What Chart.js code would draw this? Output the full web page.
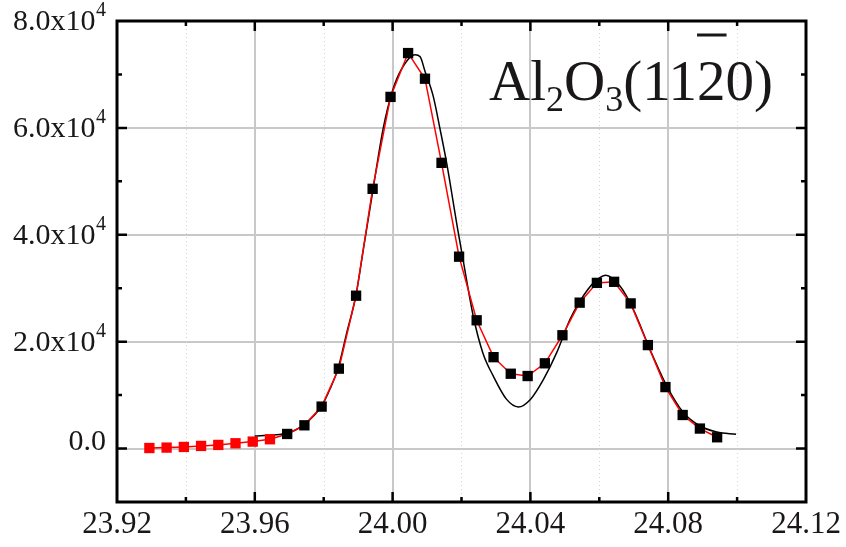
<!DOCTYPE html>
<html>
<head>
<meta charset="utf-8">
<script src="https://cdn.jsdelivr.net/npm/chart.js@4.4.1/dist/chart.umd.min.js"></script>
<style>
  html, body { margin: 0; background: #fff; }
  #wrap { position: relative; width: 846px; height: 547px; }
</style>
</head>
<body>
<div id="wrap"><canvas id="xrd"></canvas></div>
<script>
'use strict';

/* ── Data ────────────────────────────────────────────── */

// low-angle tail (red squares)
var tailX = [23.9294, 23.9344, 23.9394, 23.9444, 23.9494, 23.9544, 23.9594, 23.9644];
var tailY = [100, 180, 300, 490, 680, 990, 1300, 1740];

// measured points (black squares)
var dataX = [23.9694, 23.9744, 23.9794, 23.9844, 23.9894, 23.9942, 23.9994, 24.0045,
             24.0094, 24.0142, 24.0193, 24.0244, 24.0293, 24.0343, 24.0392, 24.0442,
             24.0493, 24.0543, 24.0593, 24.0643, 24.0691, 24.0741, 24.0792, 24.0842,
             24.0892, 24.0942];
var dataY = [2730, 4350, 7850, 14950, 28600, 48600, 65800, 74000,
             69200, 53460, 35900, 24000, 17100, 14000, 13570, 15950,
             21200, 27300, 31000, 31200, 27160, 19360, 11500, 6280,
             3740, 2110];

// fitted curve (black line)
var fitX = [23.9600, 23.9650, 23.9693, 23.9741, 23.9794, 23.9818, 23.9842, 23.9867,
            23.9893, 23.9915, 23.9942, 23.9973, 24.0000, 24.0025, 24.0065, 24.0080,
            24.0094, 24.0118, 24.0138, 24.0157, 24.0189, 24.0203, 24.0234, 24.0262,
            24.0292, 24.0331, 24.0365, 24.0400, 24.0438, 24.0476, 24.0515, 24.0544,
            24.0583, 24.0619, 24.0660, 24.0699, 24.0747, 24.0796, 24.0844, 24.0892,
            24.0941, 24.0997];
var fitY = [2360, 2550, 2850, 4400, 7960, 11100, 15100, 21700,
            28500, 37200, 48000, 60000, 67000, 70900, 73700, 73300,
            70600, 65900, 59700, 53400, 41000, 35900, 24800, 17900,
            13600, 9200, 7780, 9200, 12950, 17900, 24200, 27600,
            31000, 32450, 30400, 26000, 18560, 11700, 6730, 4220,
            3100, 2670];

var xTicks     = [23.92, 23.96, 24.00, 24.04, 24.08, 24.12];
var xMinor     = [23.94, 23.98, 24.02, 24.06, 24.10];
var yTicks     = [0, 20000, 40000, 60000, 80000];
var yMinor     = [10000, 30000, 50000, 70000];
var yTickText  = ['0.0', '2.0x10', '4.0x10', '6.0x10', '8.0x10'];
var yTickExp   = ['', '4', '4', '4', '4'];

// title: Al2O3(11-20), bar over the 2
var titleParts = [['Al', 'n'], ['2', 'sub'], ['O', 'n'], ['3', 'sub'], ['(11', 'n'], ['2', 'bar'], ['0)', 'n']];

/* ── Helpers ─────────────────────────────────────────── */

function pts(xs, ys) {
  return xs.map(function (x, i) { return { x: x, y: ys[i] }; });
}

var SERIF = '"Liberation Serif", "Times New Roman", serif';
var INK = '#1a1718';

/* Frame, inward ticks, tick labels with exponent, title */
var framePlugin = {
  id: 'frame',
  beforeDatasetsDraw: function (chart) {
    var ctx = chart.ctx, a = chart.chartArea, xs = chart.scales.x;
    ctx.save();
    ctx.strokeStyle = '#d2d2d2';
    ctx.lineWidth = 1;
    ctx.setLineDash([1, 3]);
    xMinor.forEach(function (v) {
      var px = Math.round(xs.getPixelForValue(v)) + 0.5;
      ctx.beginPath(); ctx.moveTo(px, a.top); ctx.lineTo(px, a.bottom); ctx.stroke();
    });
    ctx.restore();
  },
  afterDraw: function (chart) {
    var ctx = chart.ctx, a = chart.chartArea;
    var xs = chart.scales.x, ys = chart.scales.y;
    ctx.save();

    // ticks (inward, all four sides)
    ctx.strokeStyle = '#000';
    ctx.lineWidth = 2.5;
    function xTick(v, len) {
      var px = xs.getPixelForValue(v);
      if (px <= a.left + 1 || px >= a.right - 1) return;
      ctx.beginPath();
      ctx.moveTo(px, a.bottom); ctx.lineTo(px, a.bottom - len);
      ctx.moveTo(px, a.top);    ctx.lineTo(px, a.top + len);
      ctx.stroke();
    }
    function yTick(v, len) {
      var py = ys.getPixelForValue(v);
      if (py <= a.top + 1 || py >= a.bottom - 1) return;
      ctx.beginPath();
      ctx.moveTo(a.left, py);  ctx.lineTo(a.left + len, py);
      ctx.moveTo(a.right, py); ctx.lineTo(a.right - len, py);
      ctx.stroke();
    }
    xTicks.forEach(function (v) { xTick(v, 10); });
    xMinor.forEach(function (v) { xTick(v, 5); });
    yTicks.forEach(function (v) { yTick(v, 10); });
    yMinor.forEach(function (v) { yTick(v, 5); });

    // frame
    ctx.lineWidth = 3;
    ctx.strokeRect(a.left, a.top, a.right - a.left, a.bottom - a.top);

    // y labels: mantissa + superscript exponent
    ctx.fillStyle = INK;
    yTicks.forEach(function (v, i) {
      var py = ys.getPixelForValue(v);
      ctx.font = '30px ' + SERIF;
      ctx.textBaseline = 'middle';
      if (!yTickExp[i]) {
        ctx.textAlign = 'right';
        ctx.fillText(yTickText[i], 106, py - 6);
        return;
      }
      ctx.textAlign = 'left';
      ctx.fillText(yTickText[i], 13, py + 1);
      var w = ctx.measureText(yTickText[i]).width;
      ctx.font = '20px ' + SERIF;
      ctx.textBaseline = 'alphabetic';
      ctx.fillText(yTickExp[i], 13 + w + 0.5, py - 5);
    });

    // title
    var tx = 489, base = 100;
    ctx.textAlign = 'left';
    ctx.textBaseline = 'alphabetic';
    titleParts.forEach(function (p) {
      var sub = p[1] === 'sub';
      ctx.font = (sub ? '36px ' : '57px ') + SERIF;
      ctx.fillText(p[0], tx, sub ? base + 11 : base);
      var w = ctx.measureText(p[0]).width;
      if (p[1] === 'bar') ctx.fillRect(tx, 33.5, w + 1, 3);
      tx += w;
    });

    ctx.restore();
  }
};

/* ── Chart ───────────────────────────────────────────── */

new Chart(document.getElementById('xrd'), {
  type: 'scatter',
  data: {
    datasets: [
      {
        label: 'measured',
        data: pts(dataX, dataY),
        showLine: false,
        pointStyle: 'rect',
        pointRadius: 7.3,
        pointBorderWidth: 0,
        pointBackgroundColor: '#000'
      },
      {
        label: 'tail',
        data: pts(tailX, tailY),
        showLine: false,
        pointStyle: 'rect',
        pointRadius: 7.3,
        pointBorderWidth: 0,
        pointBackgroundColor: '#ff0000'
      },
      {
        label: 'connect',
        data: pts(tailX.concat(dataX), tailY.concat(dataY)),
        showLine: true,
        borderColor: '#ff0000',
        borderWidth: 1.5,
        pointRadius: 0,
        tension: 0
      },
      {
        label: 'fit',
        data: pts(fitX, fitY),
        showLine: true,
        borderColor: '#000',
        borderWidth: 1.5,
        pointRadius: 0,
        cubicInterpolationMode: 'monotone'
      }
    ]
  },
  options: {
    responsive: true,
    maintainAspectRatio: false,
    animation: false,
    events: [],
    layout: { padding: { top: 21, right: 40, bottom: 0, left: 0 } },
    plugins: {
      legend: { display: false },
      tooltip: { enabled: false }
    },
    scales: {
      x: {
        type: 'linear',
        min: 23.92,
        max: 24.12,
        afterBuildTicks: function (s) { s.ticks = xTicks.map(function (v) { return { value: v }; }); },
        afterFit: function (s) { s.height = 45; },
        border: { display: false },
        grid: { color: '#c8c8c8', lineWidth: 2, drawTicks: false },
        ticks: {
          autoSkip: false,
          maxRotation: 0,
          minRotation: 0,
          padding: 4,
          color: INK,
          font: { family: SERIF, size: 31 },
          callback: function (v) { return Number(v).toFixed(2); }
        }
      },
      y: {
        type: 'linear',
        min: -10000,
        max: 80000,
        afterBuildTicks: function (s) { s.ticks = yTicks.map(function (v) { return { value: v }; }); },
        afterFit: function (s) { s.width = 117; },
        border: { display: false },
        grid: { color: '#c8c8c8', lineWidth: 2, drawTicks: false },
        ticks: { display: false }
      }
    }
  },
  plugins: [framePlugin]
});
</script>
</body>
</html>
